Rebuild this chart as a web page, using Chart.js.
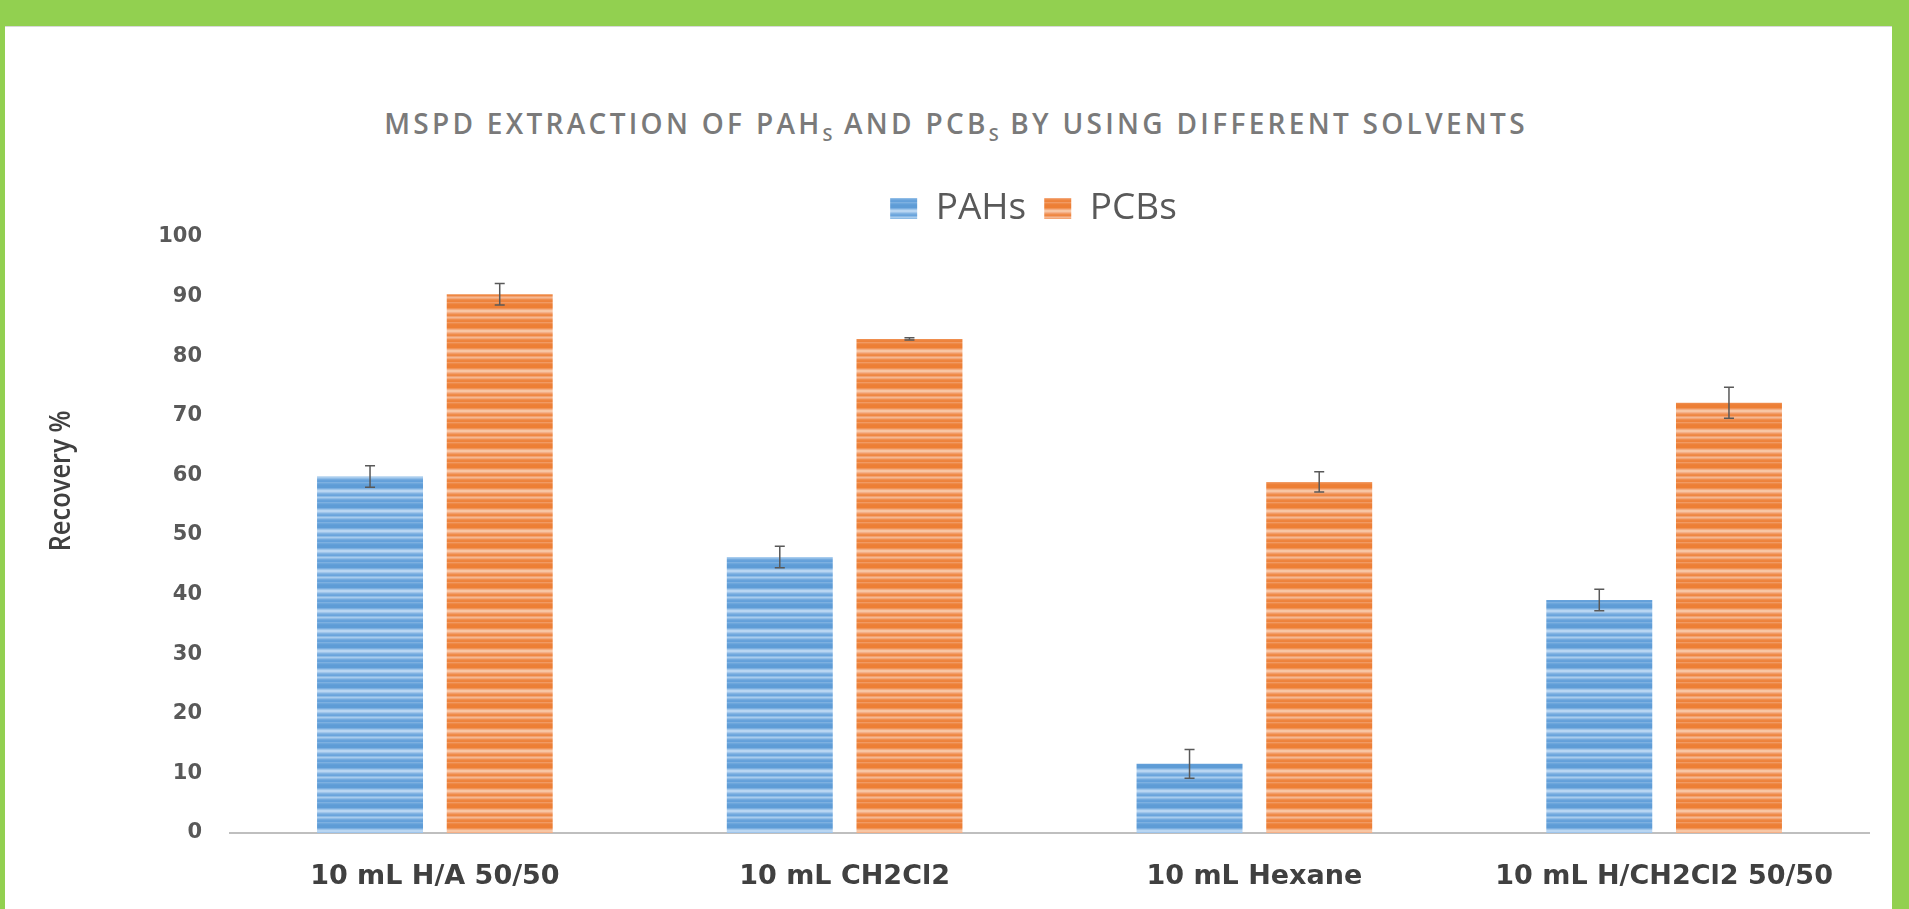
<!DOCTYPE html>
<html>
<head>
<meta charset="utf-8">
<script src="https://cdn.jsdelivr.net/npm/chart.js@4"></script>
<style>
  html, body { margin: 0; padding: 0; }
  body { width: 1909px; height: 909px; background: #92d050; position: relative; overflow: hidden; }
  #panel { position: absolute; left: 5px; top: 26px; width: 1887px; height: 883px; background: #fff; border-top: 1px solid #d8d8d8; box-sizing: border-box; }
  #chart-title {
    position: absolute; left: 0; width: 1912px; top: 104px; text-align: center;
    font-family: 'Open Sans', sans-serif; font-weight: 600; font-size: 28px;
    letter-spacing: 3.3px; color: #7a7a7a; white-space: nowrap;
  }
  #chart-title sub { font-size: 18px; vertical-align: -7px; letter-spacing: 1px; }
  #wrap { position: absolute; left: 5px; top: 26px; width: 1887px; height: 883px; }
</style>
</head>
<body>
<div id="panel"></div>
<div id="chart-title">MSPD EXTRACTION OF PAH<sub>S</sub> AND PCB<sub>S</sub> BY USING DIFFERENT SOLVENTS</div>
<div id="wrap"><canvas id="chart"></canvas></div>
<script>
// values
const categories = ['10 mL H/A 50/50', '10 mL CH2Cl2', '10 mL Hexane', '10 mL H/CH2Cl2 50/50'];
const pahs = [59.8, 46.3, 11.6, 39.1];
const pcbs = [90.4, 82.9, 58.9, 72.2];
const pahsErr = [1.8, 1.8, 2.4, 1.8];
const pcbsErr = [1.8, 0.2, 1.7, 2.6];
const yTicks = [0, 10, 20, 30, 40, 50, 60, 70, 80, 90, 100];

// horizontal striped fill like the excel "gradient" bars
const makeStripes = (rows) => {
  const c = document.createElement('canvas');
  c.width = 4;
  c.height = rows.length;
  const g = c.getContext('2d');
  rows.forEach((col, i) => {
    g.fillStyle = col;
    g.fillRect(0, i, 4, 1);
  });
  return g.createPattern(c, 'repeat');
};

const blueFill = makeStripes([
  '#5e9cd6', '#5e9cd6', '#7aaee0', '#9cc4ea', '#b9d6f2', '#b9d6f2', '#9fc5eb',
  '#83b4e2', '#72a9de', '#6aa4dc', '#8cbbe6', '#a8ccee', '#8fbce6', '#74aade',
  '#67a2db', '#63a0da', '#7db0e1', '#6da7dc', '#629fd9', '#5e9cd6'
]);
const orangeFill = makeStripes([
  '#ed7f35', '#ed7f35', '#f09356', '#f4ad80', '#f8c6a4', '#f8c6a4', '#f5b088',
  '#f29c66', '#ef8c4b', '#ee8742', '#f2a170', '#f5b891', '#f3a677', '#ef8e4e',
  '#ee853f', '#ed823b', '#f19a63', '#ef8b49', '#ed813a', '#ed7f35'
]);

const errorBars = {
  id: 'errorBars',
  afterDatasetsDraw(chart) {
    const { ctx } = chart;
    const y = chart.scales.y;
    const errs = [pahsErr, pcbsErr];
    ctx.save();
    ctx.strokeStyle = '#595959';
    ctx.lineWidth = 1.5;
    chart.data.datasets.forEach((ds, di) => {
      chart.getDatasetMeta(di).data.forEach((bar, i) => {
        const v = ds.data[i];
        const top = y.getPixelForValue(v + errs[di][i]);
        const bot = y.getPixelForValue(v - errs[di][i]);
        ctx.beginPath();
        ctx.moveTo(bar.x, top); ctx.lineTo(bar.x, bot);
        ctx.moveTo(bar.x - 5, top); ctx.lineTo(bar.x + 5, top);
        ctx.moveTo(bar.x - 5, bot); ctx.lineTo(bar.x + 5, bot);
        ctx.stroke();
      });
    });
    ctx.restore();
  }
};

// legend in the original sits a little left of the plot centre
const legendShift = {
  id: 'legendShift',
  beforeDraw(chart) {
    if (chart.legend && !chart.legend._shifted) {
      chart.legend.left -= 16;
      chart.legend.right -= 16;
      chart.legend._shifted = true;
    }
  }
};

// y axis title sits a bit above the middle of the axis in the original
const yTitle = {
  id: 'yTitle',
  afterDraw(chart) {
    const { ctx } = chart;
    ctx.save();
    ctx.translate(57, 455);
    ctx.rotate(-Math.PI / 2);
    ctx.scale(0.88, 1);
    ctx.font = '600 29px "Open Sans", sans-serif';
    ctx.fillStyle = '#404040';
    ctx.textAlign = 'center';
    ctx.textBaseline = 'middle';
    ctx.fillText('Recovery %', 0, 0);
    ctx.restore();
  }
};

new Chart(document.getElementById('chart'), {
  type: 'bar',
  data: {
    labels: categories,
    datasets: [
      { label: 'PAHs', data: pahs, backgroundColor: blueFill, borderWidth: 0 },
      { label: 'PCBs', data: pcbs, backgroundColor: orangeFill, borderWidth: 0 }
    ]
  },
  options: {
    responsive: true,
    maintainAspectRatio: false,
    animation: false,
    datasets: { bar: { barPercentage: 0.817, categoryPercentage: 0.633 } },
    layout: { padding: { top: 146, right: 23, bottom: 0, left: 0 } },
    plugins: {
      legend: {
        position: 'top',
        fullSize: false,
        labels: {
          boxWidth: 27, boxHeight: 21, padding: 18,
          color: '#595959',
          font: { family: "'Open Sans', sans-serif", size: 37 }
        }
      },
      tooltip: { enabled: false }
    },
    scales: {
      x: {
        grid: { display: false },
        border: { display: true, color: '#bfbfbf', width: 2 },
        ticks: {
          color: '#404040', padding: 20,
          font: { family: "'DejaVu Sans', sans-serif", weight: 'bold', size: 27 }
        },
        afterFit: (s) => { s.height = 76; }
      },
      y: {
        min: 0, max: 100,
        afterBuildTicks: (s) => { s.ticks = yTicks.map(v => ({ value: v })); },
        grid: { display: false, drawTicks: false },
        border: { display: false },
        ticks: {
          color: '#595959', padding: 28,
          font: { family: "'DejaVu Sans', sans-serif", weight: 'bold', size: 21 }
        },
        afterFit: (s) => { s.width = 225; }
      }
    }
  },
  plugins: [errorBars, legendShift, yTitle]
});
</script>
</body>
</html>
